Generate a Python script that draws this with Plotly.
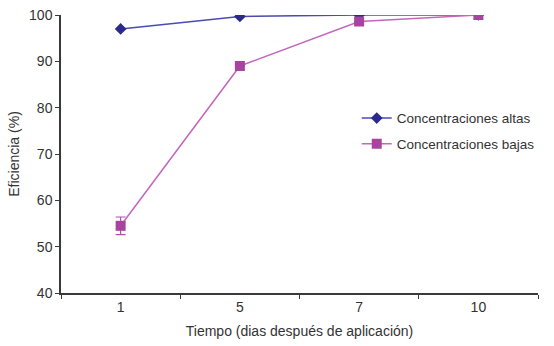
import plotly.graph_objects as go

dias = ["1", "5", "7", "10"]
altas = [97.0, 99.7, 100.0, 100.0]
bajas = [54.5, 89.0, 98.6, 100.0]
bajas_err = [1.9, 0.0, 0.0, 0.0]

fig = go.Figure()
fig.add_trace(go.Scatter(
    x=dias, y=altas, mode="lines+markers", name="Concentraciones altas",
    legendgroup="a",
    line=dict(color="#4b4bb0", width=1.5),
    marker=dict(symbol="diamond", size=9, color="#2a2a8c"),
))
fig.add_trace(go.Scatter(
    x=dias, y=bajas, mode="lines+markers", name="Concentraciones bajas",
    legendgroup="b",
    line=dict(color="#c467bc", width=1.5),
    marker=dict(symbol="square", size=10, color="#a8449f"),
    error_y=dict(type="data", array=bajas_err, color="#b050a8", thickness=1.2, width=5),
))

axis_common = dict(
    showline=True, linecolor="#3a3a3a", linewidth=1.5,
    ticks="outside", tickcolor="#3a3a3a", ticklen=4, tickwidth=1.2,
    showgrid=False, zeroline=False, automargin=False,
    tickfont=dict(family="Liberation Sans, Arial", size=14, color="#333333"),
)

fig.update_layout(
    width=554, height=346,
    margin=dict(l=61, r=16, t=15, b=53),
    plot_bgcolor="white", paper_bgcolor="white",
    font=dict(family="Liberation Sans, Arial", size=14, color="#333333"),
    xaxis=dict(type="category", tickson="boundaries", range=[-0.5, 3.5],
               title=dict(text="Tiempo (dias después de aplicación)", standoff=13,
                          font=dict(size=14)),
               **axis_common),
    yaxis=dict(range=[40, 100], dtick=10,
               title=dict(text="Eficiencia (%)", standoff=6, font=dict(size=14)),
               **axis_common),
    legend=dict(x=0.62, y=0.684, xanchor="left", yanchor="top",
                bgcolor="rgba(0,0,0,0)", font=dict(size=13.5),
                itemwidth=30, borderwidth=0,
                traceorder="grouped", tracegroupgap=5),
    showlegend=True,
)

fig.write_html(
    "out.html",
    config={"displayModeBar": False},
    post_script="document.body.style.margin='0';document.body.style.overflow='hidden';",
)
